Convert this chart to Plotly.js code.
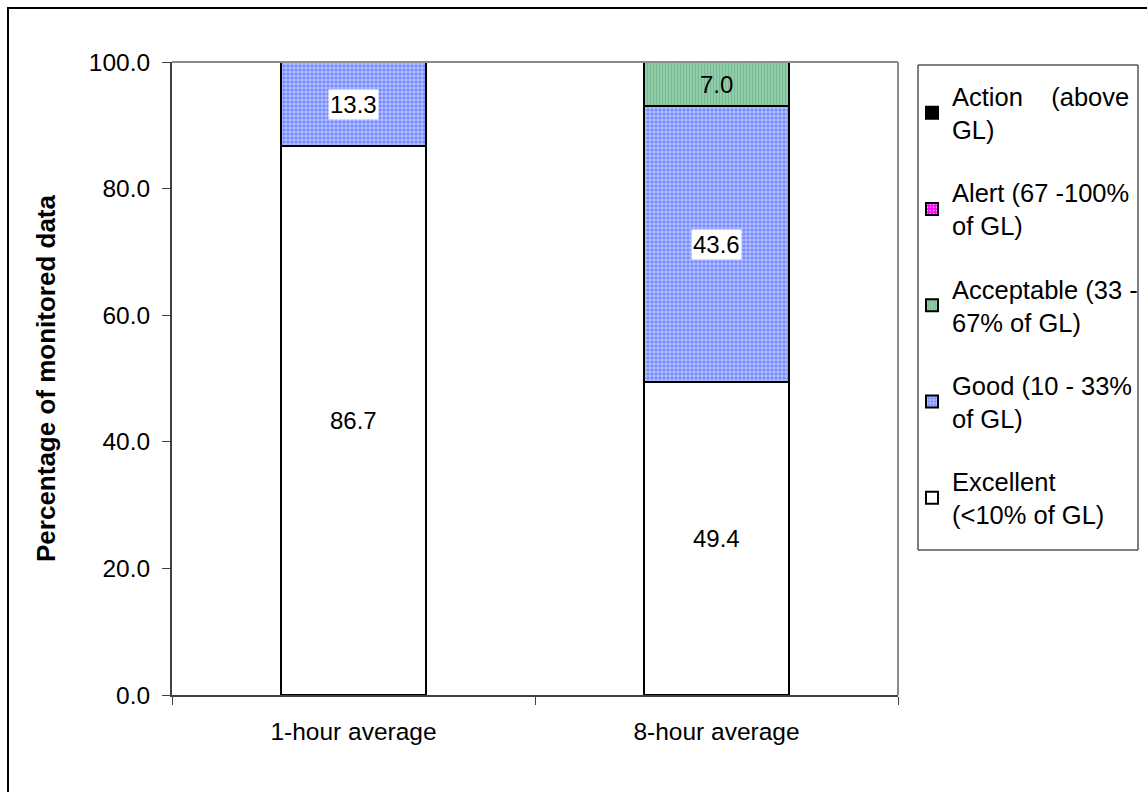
<!DOCTYPE html>
<html>
<head>
<meta charset="utf-8">
<script src="https://cdn.plot.ly/plotly-3.0.1.min.js"></script>
<style>
  html, body { margin: 0; padding: 0; background: #fff; overflow: hidden; }
  #chart { width: 1147px; height: 792px; }
</style>
</head>
<body>
<div id="chart"></div>
<script>
// Averaging periods on the x axis
const categories = ['1-hour average', '8-hour average'];

// Share of monitored data (%) in each air-quality band
const excellent  = [86.7, 49.4];
const good       = [13.3, 43.6];
const acceptable = [0.0, 7.0];
const alert      = [0.0, 0.0];
const action     = [0.0, 0.0];

const seriesNames = [
  'Excellent<br>(&lt;10% of GL)',
  'Good (10 - 33%<br>of GL)',
  'Acceptable (33 -<br>67% of GL)',
  'Alert (67 -100%<br>of GL)',
  'Action\u00a0\u00a0\u00a0 (above<br>GL)'
];

const yTicks = [0, 20, 40, 60, 80, 100];

const FONT = 'Liberation Sans, Arial, sans-serif';

const series = [excellent, good, acceptable, alert, action];
const styles = [
  { color: '#ffffff' },
  { color: '#8c9cff', pattern: { shape: '+', bgcolor: '#7489ff', fgcolor: '#e4e8ff', size: 4, solidity: 0.3 } },
  { color: '#8fcaa6', pattern: { shape: '|', bgcolor: '#8fcca8', fgcolor: '#77b28f', size: 3, solidity: 0.25 } },
  { color: '#ff33ff', pattern: { shape: '.', bgcolor: '#ff00ff', fgcolor: '#ff99ff', size: 4, solidity: 0.3 } },
  { color: '#000000' }
];
// value labels: white box behind some of them
const labelBg = ['rgba(0,0,0,0)', '#ffffff', 'rgba(0,0,0,0)', '#ffffff', '#ffffff'];

const traces = series.map((vals, i) => {
  const marker = { color: styles[i].color, line: { color: '#000000', width: 2 } };
  if (styles[i].pattern) {
    marker.pattern = Object.assign({ fillmode: 'replace' }, styles[i].pattern);
  }
  return {
    type: 'bar',
    name: seriesNames[i],
    x: categories,
    y: vals,
    width: 0.4,
    marker: marker,
    legendgroup: 'g' + i,
    legendrank: series.length - i,   // most severe band listed first
    hoverinfo: 'skip'
  };
});

// Segment labels placed at the middle of each stacked segment
const annotations = [];
categories.forEach((cat, c) => {
  let base = 0;
  series.forEach((vals, i) => {
    const v = vals[c];
    if (v > 0) {
      annotations.push({
        x: cat, y: base + v / 2, xref: 'x', yref: 'y',
        text: v.toFixed(1), showarrow: false,
        font: { family: FONT, size: 24, color: '#000' },
        bgcolor: labelBg[i], borderpad: 1
      });
    }
    base += v;
  });
});

// pixel -> paper helpers for the frame and legend box (plot area 172..898 x 62..695)
const PX = (px) => (px - 172) / 726;
const PY = (py) => (695 - py) / 633;

const layout = {
  width: 1147,
  height: 792,
  margin: { l: 172, r: 249, t: 62, b: 97, autoexpand: false },
  paper_bgcolor: '#ffffff',
  plot_bgcolor: '#ffffff',
  barmode: 'stack',
  font: { family: FONT, size: 24, color: '#000' },
  showlegend: true,
  legend: {
    x: PX(912), y: PY(73), xanchor: 'left', yanchor: 'top',
    traceorder: 'grouped',
    tracegroupgap: 27,
    borderwidth: 0, bgcolor: 'rgba(0,0,0,0)',
    font: { family: FONT, size: 25.5, color: '#000' },
    itemclick: false, itemdoubleclick: false
  },
  xaxis: {
    type: 'category',
    tickson: 'boundaries',
    ticks: 'outside', ticklen: 8, tickwidth: 1, tickcolor: '#404040',
    showline: true, linecolor: '#404040', linewidth: 2,
    showgrid: false, zeroline: false,
    tickfont: { family: FONT, size: 24.5, color: '#000' },
    ticklabelstandoff: 14,
    fixedrange: true
  },
  yaxis: {
    range: [0, 100],
    tickvals: yTicks,
    tickformat: '.1f',
    ticks: 'outside', ticklen: 8, tickwidth: 1, tickcolor: '#404040',
    showline: true, linecolor: '#404040', linewidth: 2,
    showgrid: false, zeroline: false,
    tickfont: { family: FONT, size: 24.5, color: '#000' },
    ticklabelstandoff: 7,
    title: {
      text: '<b>Percentage of monitored data</b>',
      font: { family: FONT, size: 26, color: '#000' },
      standoff: 26
    },
    fixedrange: true
  },
  shapes: [
    // grey top and right edges of the plotting area
    { type: 'line', xref: 'paper', yref: 'paper', x0: 0, x1: 1, y0: 1, y1: 1,
      line: { color: '#8c8c8c', width: 2 } },
    { type: 'line', xref: 'paper', yref: 'paper', x0: 1, x1: 1, y0: 0, y1: 1,
      line: { color: '#8c8c8c', width: 2 } },
    // legend box
    { type: 'rect', xref: 'paper', yref: 'paper',
      x0: PX(918), x1: PX(1138), y0: PY(65), y1: PY(550),
      line: { color: '#000000', width: 1 }, fillcolor: 'rgba(0,0,0,0)' },
    // chart frame
    { type: 'rect', xref: 'paper', yref: 'paper',
      x0: PX(8), x1: PX(1170), y0: PY(8), y1: PY(810),
      line: { color: '#000000', width: 2 }, fillcolor: 'rgba(0,0,0,0)' }
  ],
  annotations: annotations
};

Plotly.newPlot('chart', traces, layout, { displayModeBar: false, staticPlot: true });
</script>
</body>
</html>
